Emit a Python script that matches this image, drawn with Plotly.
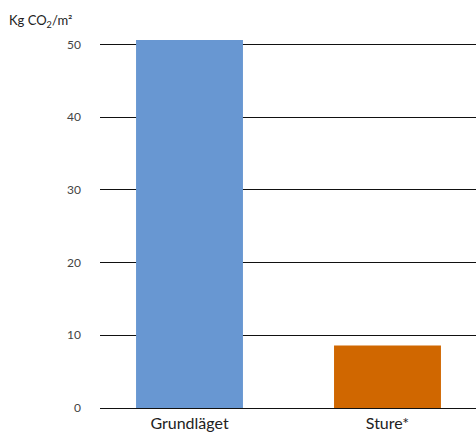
import plotly.graph_objects as go

categories = ["Grundläget", "Sture*"]
values = [50.6, 8.6]
colors = ["#6897D2", "#D06700"]
tick_vals = [0, 10, 20, 30, 40, 50]

fig = go.Figure()
fig.add_trace(go.Bar(x=categories, y=values, marker=dict(color=colors, line=dict(width=0)),
                     width=0.54, hoverinfo="skip"))

fig.update_layout(
    width=476, height=437,
    margin=dict(l=100, r=0, t=40, b=29),
    paper_bgcolor="white", plot_bgcolor="white",
    showlegend=False,
    font=dict(family="Lato, sans-serif", color="#333333"),
    annotations=[dict(text="Kg CO<sub>2</sub>/m²", x=0, y=1, xref="paper", yref="paper",
                      xshift=-93, yshift=30, showarrow=False, xanchor="left", yanchor="top",
                      font=dict(size=13, color="#222222"))],
)
fig.update_xaxes(range=[-0.452, 1.447], showgrid=False, showline=False, ticks="",
                 ticklabelstandoff=4, tickfont=dict(size=16, color="#222222"))
fig.update_yaxes(range=[0, 50.6], tickvals=tick_vals, showgrid=True, gridcolor="#111111",
                 gridwidth=1.4, zeroline=True, zerolinecolor="#111111", zerolinewidth=1.4,
                 ticklabelstandoff=18, tickfont=dict(size=12, color="#444444"),
                 layer="below traces")

fig.write_html("out.html", config={"displayModeBar": False},
               post_script="document.body.style.margin='0';document.body.style.overflow='hidden';")
